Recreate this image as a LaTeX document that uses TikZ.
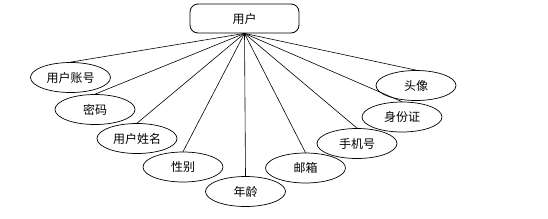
\documentclass[tikz,border=0pt]{standalone}
\usepackage{fontspec}
\newfontfamily\cjk{Noto Sans CJK SC}
\usetikzlibrary{shapes.geometric}
\begin{document}
\begin{tikzpicture}[x=1pt,y=-1pt,
  every node/.style={font=\cjk\fontsize{12}{14}\selectfont},
  attr/.style={ellipse,draw,line width=0.7pt,minimum width=80pt,minimum height=30pt,inner sep=0pt},
  ent/.style={rectangle,rounded corners=8pt,draw,line width=0.8pt,minimum width=109pt,minimum height=29pt},
  link/.style={line width=0.6pt}]
\useasboundingbox (0,0) rectangle (548,218);
\node[ent] (u) at (244.5,18.5) {用户};
\node[attr] (a1) at (70.5,77.5) {用户账号};
\node[attr] (a2) at (95,109.5) {密码};
\node[attr] (a3) at (137,138.5) {用户姓名};
\node[attr] (a4) at (183,167) {性别};
\node[attr] (a5) at (245.5,191.5) {年龄};
\node[attr] (a6) at (305.5,168) {邮箱};
\node[attr] (a7) at (357,143.5) {手机号};
\node[attr] (a8) at (402,117) {身份证};
\node[attr] (a9) at (416,85.5) {头像};
\foreach \n in {a1,a2,a3,a4,a5,a6,a7,a8,a9}
  \draw[link] (u.south) -- (\n.north);
\end{tikzpicture}
\end{document}
